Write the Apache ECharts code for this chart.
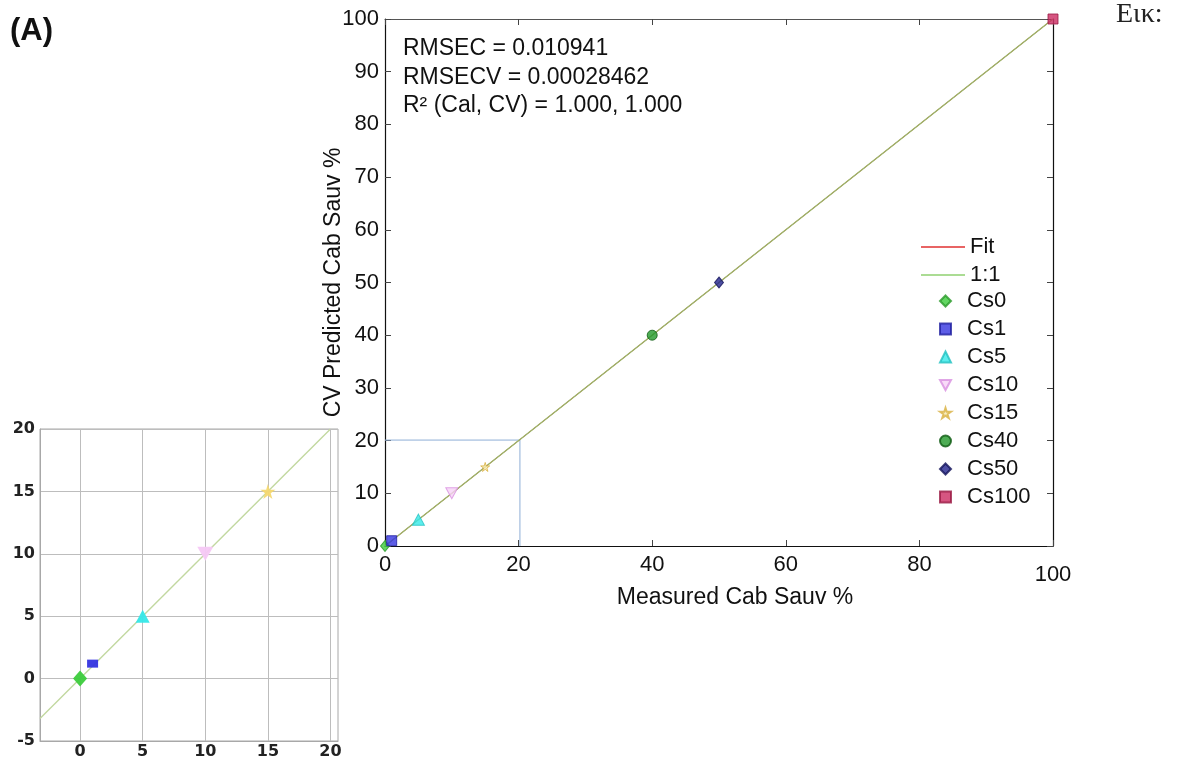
<!DOCTYPE html>
<html>
<head>
  <meta charset="utf-8">
  <title>CV Predicted vs Measured Cab Sauv</title>
  <script src="https://cdn.jsdelivr.net/npm/echarts@6/dist/echarts.min.js"></script>
  <style>
    html, body { margin: 0; padding: 0; background: #fff; }
    #graph { width: 1177px; height: 761px; }
  </style>
</head>
<body>
  <div id="graph"></div>

  <script>
    // data
    var sampleNames = ['Cs0', 'Cs1', 'Cs5', 'Cs10', 'Cs15', 'Cs40', 'Cs50', 'Cs100'];
    var measured = [0, 1, 5, 10, 15, 40, 50, 100];
    var predicted = [0, 1, 5, 10, 15, 40, 50, 100];
    var fitLine = [[0, 0], [100, 100]];
    var oneToOne = [[0, 0], [100, 100]];
    var zoomBox = [[0, 20.1], [20.2, 20.1], [20.2, 0]];

    // inset (zoom of 0..20)
    var insetNames = ['Cs0', 'Cs1', 'Cs5', 'Cs10', 'Cs15'];
    var insetX = [0, 1, 5, 10, 15];
    var insetY = [0, 1.2, 5, 10, 15];
    var insetLine = [[-3.2, -3.2], [20, 20]];
    var insetXTicks = [0, 5, 10, 15, 20];

    var statsText = ['RMSEC = 0.010941', 'RMSECV = 0.00028462', 'R\u00b2 (Cal, CV) = 1.000, 1.000'];

    var star = 'path://M50,0 L61,35 L98,35 L68,57 L79,91 L50,70 L21,91 L32,57 L2,35 L39,35 Z';
    var markerStyle = {
      Cs0: { symbol: 'diamond', size: [9, 11], color: '#3ccc3c', border: '#2a9a2a', rotate: 0 },
      Cs1: { symbol: 'rect', size: 10, color: '#3434e0', border: '#2020a0', rotate: 0 },
      Cs5: { symbol: 'triangle', size: [12, 11], color: '#35e8e8', border: '#20c0c0', rotate: 0 },
      Cs10: { symbol: 'triangle', size: [12, 11], color: '#f6d2f6', border: '#d890e0', rotate: 180 },
      Cs15: { symbol: star, size: 9, color: '#f8eab0', border: '#d8b040', rotate: 0 },
      Cs40: { symbol: 'circle', size: 10, color: '#22992a', border: '#0e5a12', rotate: 0 },
      Cs50: { symbol: 'diamond', size: [9, 11], color: '#22238c', border: '#14145a', rotate: 0 },
      Cs100: { symbol: 'rect', size: 10, color: '#cc2a62', border: '#9a1a44', rotate: 0 }
    };
    var insetSize = { Cs0: [14, 16], Cs1: [11, 8], Cs5: [14, 13], Cs10: [16, 14], Cs15: 15 };
    var insetColor = { Cs0: '#3ccc3c', Cs1: '#3434e0', Cs5: '#35e8e8', Cs10: '#f6c8f6', Cs15: '#f4d870' };

    var font = 'Liberation Sans, Arial, sans-serif';
    var chart = echarts.init(document.getElementById('graph'));

    var series = [];

    // main plot lines
    series.push({
      name: 'Fit', type: 'line', xAxisIndex: 0, yAxisIndex: 0,
      data: fitLine, symbol: 'none', z: 2, color: '#e03030',
      lineStyle: { color: '#e03030', width: 1 }
    });
    series.push({
      name: '1:1', type: 'line', xAxisIndex: 0, yAxisIndex: 0,
      data: oneToOne, symbol: 'none', z: 3, color: '#8fd070',
      lineStyle: { color: '#9ab66a', width: 1.4 }
    });
    series.push({
      name: 'zoom box', type: 'line', xAxisIndex: 0, yAxisIndex: 0,
      data: zoomBox, symbol: 'none', z: 1,
      lineStyle: { color: '#8eaed6', width: 1 }
    });

    // main plot points
    sampleNames.forEach(function (n, i) {
      var m = markerStyle[n];
      series.push({
        name: n, type: 'scatter', xAxisIndex: 0, yAxisIndex: 0,
        data: [[measured[i], predicted[i]]],
        symbol: m.symbol, symbolSize: m.size, symbolRotate: m.rotate, z: 5,
        clip: false,
        itemStyle: { color: m.color, borderColor: m.border, borderWidth: 1 }
      });
    });

    // inset line with vertical grid lines
    series.push({
      name: 'inset 1:1', type: 'line', xAxisIndex: 2, yAxisIndex: 2,
      data: insetLine, symbol: 'none', z: 3,
      lineStyle: { color: '#c2d8a0', width: 1.4 },
      markLine: {
        silent: true, symbol: 'none', label: { show: false },
        lineStyle: { color: '#bdbdbd', width: 1, type: 'solid' },
        data: insetXTicks.map(function (v) { return { xAxis: v }; })
      }
    });

    insetNames.forEach(function (n, i) {
      var m = markerStyle[n];
      series.push({
        name: n + ' (inset)', type: 'scatter', xAxisIndex: 2, yAxisIndex: 2,
        data: [[insetX[i], insetY[i]]],
        symbol: m.symbol, symbolSize: insetSize[n], symbolRotate: m.rotate, z: 5,
        itemStyle: { color: insetColor[n], opacity: 0.95 }
      });
    });

    var tickStyle = { inside: true, length: 6, lineStyle: { color: '#444' } };
    var legendText = { fontFamily: font, fontSize: 22, color: '#111', lineHeight: 22 };

    // legend entries; Cs10 needs an upside-down triangle
    var markerLegend = sampleNames.map(function (n) {
      if (n === 'Cs10') return { name: n, icon: 'path://M0,0 L12,0 L6,11 Z' };
      return n;
    });

    var option = {
      animation: false,
      backgroundColor: '#fff',
      textStyle: { fontFamily: font },
      grid: [
        { left: 385, top: 19, width: 668, height: 527, show: false },
        { left: 40, top: 429, width: 298, height: 312, show: true, borderColor: '#a8a8a8', borderWidth: 1 }
      ],
      legend: [
        {
          left: 916, top: 231, orient: 'vertical',
          itemWidth: 44, itemHeight: 1.5, itemGap: 6,
          data: [{ name: 'Fit', icon: 'rect' }, { name: '1:1', icon: 'rect' }],
          textStyle: legendText
        },
        {
          left: 934, top: 285, orient: 'vertical',
          itemWidth: 11, itemHeight: 11, itemGap: 6,
          data: markerLegend,
          textStyle: Object.assign({}, legendText, { padding: [0, 0, 0, 11] })
        }
      ],
      xAxis: [
        {
          gridIndex: 0, type: 'value', min: 0, max: 100, interval: 20,
          name: 'Measured Cab Sauv %', nameLocation: 'middle', nameGap: 40, nameMoveOverlap: false,
          nameTextStyle: { fontFamily: font, fontSize: 23, color: '#111', padding: [0, 0, 0, 32] },
          axisLine: { onZero: false, lineStyle: { color: '#111', width: 1.2 } },
          axisTick: tickStyle,
          axisLabel: {
            fontFamily: font, fontSize: 22, color: '#111', margin: 8,
            formatter: function (v) { return v === 100 ? '{low|100}' : v; },
            rich: { low: { fontFamily: font, fontSize: 22, color: '#111', padding: [10, 0, 0, 0] } }
          },
          splitLine: { show: false }
        },
        {
          gridIndex: 0, type: 'value', position: 'top', min: 0, max: 100, interval: 20,
          axisLine: { onZero: false, lineStyle: { color: '#555', width: 1 } },
          axisTick: tickStyle,
          axisLabel: { show: false }, splitLine: { show: false }
        },
        {
          gridIndex: 1, type: 'value', min: -3.2, max: 20.6,
          axisLine: { show: true, onZero: false, lineStyle: { color: '#a8a8a8' } },
          axisTick: { show: false },
          axisLabel: { customValues: insetXTicks, fontFamily: 'DejaVu Sans, sans-serif', fontSize: 16, fontWeight: 'bold', color: '#222', margin: 3 },
          splitLine: { show: false }
        }
      ],
      yAxis: [
        {
          gridIndex: 0, type: 'value', min: 0, max: 100, interval: 10,
          name: 'CV Predicted Cab Sauv %', nameLocation: 'middle', nameGap: 40, nameMoveOverlap: false,
          nameTextStyle: { fontFamily: font, fontSize: 23, color: '#111' },
          axisLine: { onZero: false, lineStyle: { color: '#111', width: 1.2 } },
          axisTick: tickStyle,
          axisLabel: { fontFamily: font, fontSize: 22, color: '#111', margin: 6 },
          splitLine: { show: false }
        },
        {
          gridIndex: 0, type: 'value', position: 'right', min: 0, max: 100, interval: 10,
          axisLine: { onZero: false, lineStyle: { color: '#111', width: 1.2 } },
          axisTick: tickStyle,
          axisLabel: { show: false }, splitLine: { show: false }
        },
        {
          gridIndex: 1, type: 'value', min: -5, max: 20, interval: 5,
          axisLine: { show: true, onZero: false, lineStyle: { color: '#a8a8a8' } },
          axisTick: { show: false },
          axisLabel: { fontFamily: 'DejaVu Sans, sans-serif', fontSize: 16, fontWeight: 'bold', color: '#222', margin: 5 },
          splitLine: { show: true, lineStyle: { color: '#bdbdbd', width: 1 } }
        }
      ],
      graphic: [
        { type: 'text', left: 10, top: 16, style: { text: '(A)', fontFamily: font, fontSize: 31, fontWeight: 'bold', fill: '#111' } },
        { type: 'text', left: 1116, top: 1, style: { text: 'Εικ:', fontFamily: 'Liberation Serif, DejaVu Serif, serif', fontSize: 28, fill: '#222' } },
        { type: 'text', left: 403, top: 37, style: { text: statsText[0], fontFamily: font, fontSize: 23, fill: '#111' } },
        { type: 'text', left: 403, top: 66, style: { text: statsText[1], fontFamily: font, fontSize: 23, fill: '#111' } },
        { type: 'text', left: 403, top: 94, style: { text: statsText[2], fontFamily: font, fontSize: 23, fill: '#111' } }
      ],
      series: series
    };

    chart.setOption(option);
  </script>
</body>
</html>
